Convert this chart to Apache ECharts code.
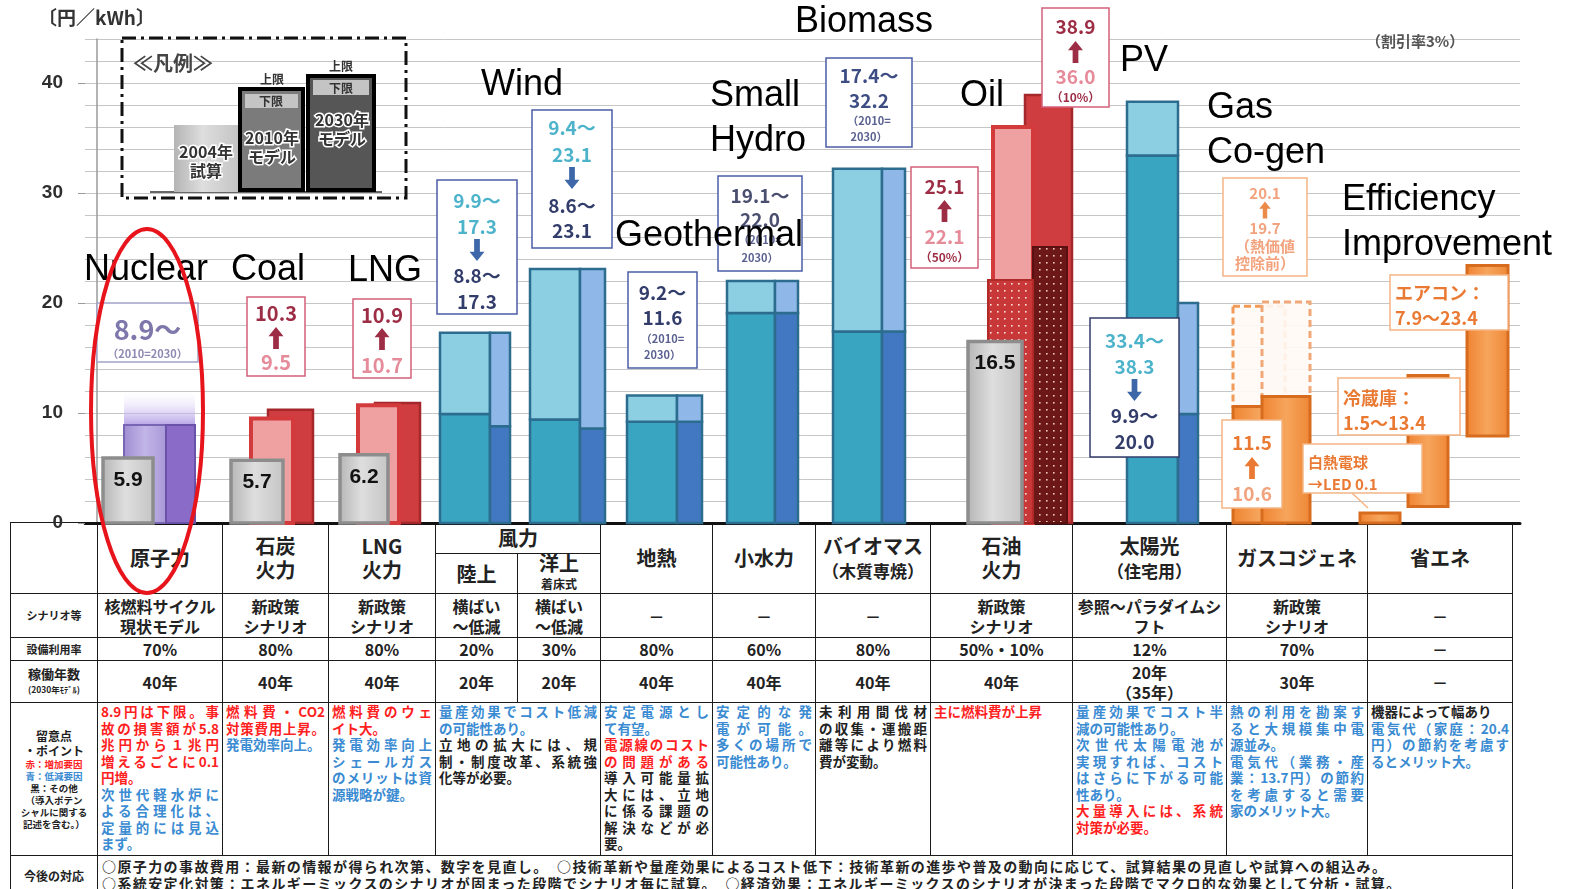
<!DOCTYPE html>
<html lang="ja">
<head>
<meta charset="utf-8">
<title>電源別発電コスト試算</title>
<script src="https://cdn.jsdelivr.net/npm/echarts@6/dist/echarts.min.js"></script>
<style>
  html, body { margin: 0; padding: 0; background: #fff; }
  #page { position: relative; width: 1576px; height: 889px; overflow: hidden; }
  #chart { position: absolute; left: 0; top: 0; width: 1576px; height: 889px; z-index: 2; pointer-events: none; }
  #tbl { position: absolute; left: 10px; top: 522px; width: 1502px; z-index: 1;
         border-collapse: collapse; table-layout: fixed;
         font-family: "Noto Sans CJK JP", sans-serif; font-weight: bold; color: #222; }
  #tbl td { border: 1.5px solid #1b1b1b; padding: 0; text-align: center; vertical-align: middle; overflow: hidden; }
  #tbl .hd { font-size: 20px; line-height: 24px; }
  #tbl .hd .sub { font-size: 17px; }
  #tbl .lab { font-size: 11px; line-height: 13px; }
  #tbl .val { font-size: 16px; line-height: 20px; }
  #tbl .note { vertical-align: top; text-align: justify; font-size: 13.5px; line-height: 16.5px; padding: 0 3px; }
  #tbl .note div.f { text-align-last: justify; }
  #tbl .todo { text-align: left; font-size: 14px; line-height: 17px; letter-spacing: 1.4px; padding: 2px 0 0 4px; vertical-align: top; white-space: nowrap; }
  .r { color: #ff1f1f; } .b { color: #3a8bd2; } .k { color: #222; }
</style>
</head>
<body>
<div id="page">
  <table id="tbl"></table>
  <div id="chart"></div>
</div>
<script>
// ---- data ----
const plants = ['原子力', '石炭火力', 'LNG火力', '風力（陸上）', '風力（洋上）', '地熱', '小水力', 'バイオマス', '石油火力', '太陽光', 'ガスコジェネ'];
const cost2004 = [5.9, 5.7, 6.2, null, null, null, null, null, 16.5, null, null];
const low2010 = [8.9, 9.5, 10.7, 9.9, 9.4, 9.2, 19.1, 17.4, 22.1, 33.4, 10.6];
const high2010 = [null, 9.5, 10.7, 17.3, 23.1, 11.6, 22.0, 32.2, 36.0, 38.3, 19.7];
const low2030 = [8.9, 10.3, 10.9, 8.8, 8.6, 9.2, 19.1, 17.4, 25.1, 9.9, 11.5];
const high2030 = [null, 10.3, 10.9, 17.3, 23.1, 11.6, 22.0, 32.2, 38.9, 20.0, 20.1];
const savings = ['白熱電球→LED', '冷蔵庫', 'エアコン'];
const savingLow = [0, 1.5, 7.9];
const savingHigh = [0.1, 13.4, 23.4];
const yTicks = [0, 10, 20, 30, 40];

const scenario = ['核燃料サイクル\n現状モデル', '新政策\nシナリオ', '新政策\nシナリオ', '横ばい\n～低減', '横ばい\n～低減', '－', '－', '－', '新政策\nシナリオ', '参照～パラダイムシ\nフト', '新政策\nシナリオ', '－'];
const utilization = ['70%', '80%', '80%', '20%', '30%', '80%', '60%', '80%', '50%・10%', '12%', '70%', '－'];
const lifetime = ['40年', '40年', '40年', '20年', '20年', '40年', '40年', '40年', '40年', '20年\n（35年）', '30年', '－'];
const notes = [
  [['r','8.9円は下限。事',1],['r','故の損害額が5.8',1],['r','兆円から１兆円',1],['r','増えるごとに0.1',1],['r','円増。'],['b','次世代軽水炉に',1],['b','よる合理化は、',1],['b','定量的には見込',1],['b','まず。']],
  [['r','燃料費・CO2',1],['r','対策費用上昇。',1],['b','発電効率向上。']],
  [['r','燃料費のウェ',1],['r','イト大。'],['b','発電効率向上',1],['b','シェールガス',1],['b','のメリットは資',1],['b','源戦略が鍵。']],
  [['b','量産効果でコスト低減',1],['b','の可能性あり。'],['k','立地の拡大には、規',1],['k','制・制度改革、系統強',1],['k','化等が必要。']],
  [['b','安定電源とし',1],['b','て有望。'],['r','電源線のコスト',1],['r','の問題がある',1],['k','導入可能量拡',1],['k','大には、立地',1],['k','に係る課題の',1],['k','解決などが必',1],['k','要。']],
  [['b','安定的な発',1],['b','電が可能。',1],['b','多くの場所で',1],['b','可能性あり。']],
  [['k','未利用間伐材',1],['k','の収集・運搬距',1],['k','離等により燃料',1],['k','費が変動。']],
  [['r','主に燃料費が上昇']],
  [['b','量産効果でコスト半',1],['b','減の可能性あり。'],['b','次世代太陽電池が',1],['b','実現すれば、コスト',1],['b','はさらに下がる可能',1],['b','性あり。'],['r','大量導入には、系統',1],['r','対策が必要。']],
  [['b','熱の利用を勘案す',1],['b','ると大規模集中電',1],['b','源並み。'],['b','電気代（業務・産',1],['b','業：13.7円）の節約',1],['b','を考慮すると需要',1],['b','家のメリット大。']],
  [['k','機器によって幅あり'],['b','電気代（家庭：20.4',1],['b','円）の節約を考慮す',1],['b','るとメリット大。']]
];
const followUp = [
  '○原子力の事故費用：最新の情報が得られ次第、数字を見直し。　○技術革新や量産効果によるコスト低下：技術革新の進歩や普及の動向に応じて、試算結果の見直しや試算への組込み。',
  '○系統安定化対策：エネルギーミックスのシナリオが固まった段階でシナリオ毎に試算。　○経済効果：エネルギーミックスのシナリオが決まった段階でマクロ的な効果として分析・試算。'
];

// ---- layout ----
const colWidths = [125, 106, 107, 82, 83, 112, 103, 115, 142, 154, 141, 145];
const colStart = [];
let acc = 0;
colWidths.forEach(w => { colStart.push(acc); acc += w; });
const kinds = ['nuclear', 'fossil', 'fossil', 'range', 'range', 'range', 'range', 'range', 'oil', 'range', 'cogen'];
// bar slots inside each column (offset from column start)
const slots = [
  { g: [6, 56], a: [27, 69], b: [69, 98] },
  { g: [9, 61], a: [29, 71], b: [46, 91] },
  { g: [12, 60], a: [30, 71], b: [47, 92] },
  { a: [5, 55], b: [55, 75] },
  { a: [13, 63], b: [63, 88] },
  { a: [27, 77], b: [77, 102] },
  { a: [15, 63], b: [63, 86] },
  { a: [18, 67], b: [67, 90] },
  { g: [38, 92], a: [63, 103], b: [95, 142], da: [58, 103], db: [103, 137] },
  { a: [55, 106], b: [106, 126] },
  { a: [7, 59], b: [36, 84] }
];
const effSlots = [[-7, 33], [41, 81], [100, 141]];

// ---- table ----
function buildTable () {
  const br = s => s.replace(/\n/g, '<br>');
  let h = '<colgroup><col style="width:87px">' + colWidths.map(w => `<col style="width:${w}px">`).join('') + '</colgroup>';
  const heads = ['原子力', '石炭<br>火力', 'LNG<br>火力', 'WIND', '地熱', '小水力', 'バイオマス<br><span class="sub">（木質専焼）</span>',
    '石油<br>火力', '太陽光<br><span class="sub">（住宅用）</span>', 'ガスコジェネ', '省エネ'];
  h += '<tr style="height:31px"><td rowspan="2"></td>';
  heads.forEach(t => {
    h += t === 'WIND' ? '<td colspan="2" class="hd">風力</td>' : `<td rowspan="2" class="hd">${t}</td>`;
  });
  h += '</tr><tr style="height:36px"><td class="hd">陸上</td><td class="hd" style="line-height:18px">洋上<br><span style="font-size:12px">着床式</span></td></tr>';
  h += '<tr style="height:44px"><td class="lab">シナリオ等</td>' + scenario.map(s => `<td class="val">${br(s)}</td>`).join('') + '</tr>';
  h += '<tr style="height:23px"><td class="lab">設備利用率</td>' + utilization.map(s => `<td class="val">${s}</td>`).join('') + '</tr>';
  h += '<tr style="height:42px"><td class="lab" style="font-size:13px;line-height:14px">稼働年数<br><span style="font-size:8.5px">(2030年ﾓﾃﾞﾙ)</span></td>' +
    lifetime.map(s => `<td class="val">${br(s)}</td>`).join('') + '</tr>';
  h += '<tr style="height:153px"><td class="lab"><div style="font-size:12px;line-height:15px">留意点<br>・ポイント</div>' +
    '<div style="font-size:9.5px;line-height:12px"><span class="r">赤：増加要因</span><br><span class="b">青：低減要因</span><br>黒：その他<br>（導入ポテン<br>シャルに関する<br>記述を含む。）</div></td>';
  notes.forEach((lines, i) => {
    const span = i === 3 ? ' colspan="2"' : '';
    h += `<td class="note"${span}>` + lines.map(l => `<div class="${l[0]}${l[2] ? ' f' : ''}">${l[1]}</div>`).join('') + '</td>';
  });
  h += '</tr>';
  h += '<tr style="height:40px"><td class="lab" style="font-size:12px">今後の対応</td><td colspan="12" class="todo">' + followUp.join('<br>') + '</td></tr>';
  document.getElementById('tbl').innerHTML = h;
}
buildTable();

// ---- chart ----
const C = {
  grayEdge: '#8d8d8d',
  gray: { type: 'linear', x: 0, y: 0, x2: 1, y2: 0, colorStops: [{ offset: 0, color: '#b4b4b4' }, { offset: 0.45, color: '#dedede' }, { offset: 1, color: '#c4c4c4' }] },
  tealEdge: '#2c6d8f', tealLow: '#3aa5c1', tealHigh: '#8ccfe3', blueLow: '#4178c1', blueHigh: '#8fb8e8',
  lav: { type: 'linear', x: 0, y: 0, x2: 1, y2: 0, colorStops: [{ offset: 0, color: '#9e8cd0' }, { offset: 0.5, color: '#c2b5e8' }, { offset: 1, color: '#a897d7' }] },
  pur: '#8a6cc8', red: '#d03d40', redEdge: '#a3272b', pink: '#efa0a0', pinkEdge: '#d23a3c',
  orange: { type: 'linear', x: 0, y: 0, x2: 1, y2: 0, colorStops: [{ offset: 0, color: '#ef8230' }, { offset: 0.5, color: '#f6a55c' }, { offset: 1, color: '#ee8634' }] },
  orangeEdge: '#d86c1e'
};

function dotFill (bg, dot) {
  const c = document.createElement('canvas');
  c.width = 7; c.height = 7;
  const g = c.getContext('2d');
  g.fillStyle = bg; g.fillRect(0, 0, 7, 7);
  g.fillStyle = dot; g.fillRect(3, 3, 1.6, 1.6);
  return { type: 'pattern', image: c, repeat: 'repeat' };
}
const dotRed = dotFill('#c83838', '#fde2d8');
const dotDark = dotFill('#6c1818', '#f0c8b8');

function seg (api, x0, slot, y0, y1, style) {
  const p = api.coord([x0 + slot[0], y1]);
  const q = api.coord([x0 + slot[1], y0]);
  return { type: 'rect', shape: { x: p[0], y: p[1], width: q[0] - p[0], height: q[1] - p[1] }, style: style };
}

function renderPlant (params, api) {
  const i = params.dataIndex;
  const x0 = colStart[i];
  const s = slots[i];
  const g04 = api.value(1), lo10 = api.value(2), hi10 = api.value(3), lo30 = api.value(4), hi30 = api.value(5);
  const ch = [];
  const k = kinds[i];
  if (k === 'range') {
    ch.push(seg(api, x0, s.a, 0, lo10, { fill: C.tealLow, stroke: C.tealEdge, lineWidth: 2.5 }));
    ch.push(seg(api, x0, s.a, lo10, hi10, { fill: C.tealHigh, stroke: C.tealEdge, lineWidth: 2.5 }));
    ch.push(seg(api, x0, s.b, 0, lo30, { fill: C.blueLow, stroke: C.tealEdge, lineWidth: 2.5 }));
    ch.push(seg(api, x0, s.b, lo30, hi30, { fill: C.blueHigh, stroke: C.tealEdge, lineWidth: 2.5 }));
  } else if (k === 'nuclear') {
    const fade = seg(api, x0, [s.a[0], s.b[1]], lo10, lo10 + 3, {});
    fade.style = { fill: { type: 'linear', x: 0, y: 0, x2: 0, y2: 1, colorStops: [{ offset: 0, color: 'rgba(235,228,252,0)' }, { offset: 1, color: 'rgba(175,155,228,0.9)' }] } };
    ch.push(fade);
    ch.push(seg(api, x0, s.a, 0, lo10, { fill: C.lav, stroke: '#7866b4', lineWidth: 2 }));
    ch.push(seg(api, x0, s.b, 0, lo30, { fill: C.pur, stroke: '#6a52a8', lineWidth: 2 }));
  } else if (k === 'fossil') {
    ch.push(seg(api, x0, s.b, 0, lo30, { fill: C.red, stroke: C.redEdge, lineWidth: 2.5 }));
    ch.push(seg(api, x0, s.a, 0, lo10, { fill: C.pink, stroke: C.pinkEdge, lineWidth: 4 }));
  } else if (k === 'oil') {
    ch.push(seg(api, x0, s.b, 0, hi30, { fill: C.red, stroke: C.redEdge, lineWidth: 2.5 }));
    ch.push(seg(api, x0, s.a, 0, hi10, { fill: C.pink, stroke: C.pinkEdge, lineWidth: 4 }));
    ch.push(seg(api, x0, s.db, 0, lo30, { fill: dotDark, stroke: '#5a1010', lineWidth: 2 }));
    ch.push(seg(api, x0, s.da, 0, lo10, { fill: dotRed, stroke: '#b02a2a', lineWidth: 2 }));
  } else if (k === 'cogen') {
    const dashed = { fill: 'rgba(255,250,245,0.9)', stroke: '#f29a58', lineWidth: 3, lineDash: [7, 4] };
    ch.push(seg(api, x0, s.a, lo10, hi10, dashed));
    ch.push(seg(api, x0, s.b, lo30, hi30, Object.assign({}, dashed, { stroke: '#f0a878' })));
    ch.push(seg(api, x0, s.a, 0, lo10, { fill: C.orange, stroke: C.orangeEdge, lineWidth: 3 }));
    ch.push(seg(api, x0, s.b, 0, lo30, { fill: C.orange, stroke: C.orangeEdge, lineWidth: 3 }));
  }
  if (!isNaN(g04)) {
    const bar = seg(api, x0, s.g, 0, g04, { fill: C.gray, stroke: C.grayEdge, lineWidth: 3.5 });
    ch.push(bar);
    ch.push({
      type: 'text',
      style: {
        text: g04.toFixed(1), x: bar.shape.x + bar.shape.width / 2, y: bar.shape.y + 22,
        font: 'bold 21px "Liberation Sans"', fill: '#111',
        align: 'center', verticalAlign: 'middle', textAlign: 'center', textVerticalAlign: 'middle'
      }
    });
  }
  return { type: 'group', children: ch };
}

function renderSaving (params, api) {
  const i = params.dataIndex;
  const s = effSlots[i];
  const x0 = colStart[11];
  const p = api.coord([x0 + s[0], api.value(2)]);
  const q = api.coord([x0 + s[1], api.value(1)]);
  let top = p[1];
  if (q[1] - top < 10) top = q[1] - 10;
  return {
    type: 'rect',
    shape: { x: p[0], y: top, width: q[0] - p[0], height: q[1] - top },
    style: { fill: C.orange, stroke: C.orangeEdge, lineWidth: 3 }
  };
}

const f = v => v.toFixed(1);
const tealT = '#4db3cb', navyT = '#333d6b', redT = '#9d2d45', pinkT = '#e68b9a', purT = '#7d77ab', orT = '#ea7a33', orL = '#f2a27c', subB = '#5a6190';
const boxes = [
  { box: [97, 303, 101, 59], stroke: '#a3a3c9', items: [[f(low2010[0]) + '～', 330, 27, purT], ['（2010=2030）', 354, 11, '#8d89b3']] },
  { box: [247, 297, 58, 79], stroke: '#d4607a', items: [[f(low2030[1]), 313, 20, redT], ['^', 338, 22, redT], [f(low2010[1]), 362, 20, pinkT]] },
  { box: [353, 299, 58, 79], stroke: '#d4607a', items: [[f(low2030[2]), 315, 20, redT], ['^', 339, 22, redT], [f(low2010[2]), 365, 20, pinkT]] },
  { box: [437, 180, 80, 134], stroke: '#4b5ea6', items: [[f(low2010[3]) + '～', 201, 19, tealT], [f(high2010[3]), 227, 19, tealT], ['v', 250, 22, '#3d67a8'], [f(low2030[3]) + '～', 276, 19, navyT], [f(high2030[3]), 302, 19, navyT]] },
  { box: [532, 110, 80, 138], stroke: '#4b5ea6', items: [[f(low2010[4]) + '～', 128, 19, tealT], [f(high2010[4]), 155, 19, tealT], ['v', 178, 22, '#3d67a8'], [f(low2030[4]) + '～', 206, 19, navyT], [f(high2030[4]), 231, 19, navyT]] },
  { box: [628, 272, 69, 96], stroke: '#4b5ea6', items: [[f(low2010[5]) + '～', 293, 19, navyT], [f(high2010[5]), 318, 19, navyT], ['（2010=', 339, 11, subB], ['2030）', 355, 11, subB]] },
  { box: [718, 176, 84, 95], stroke: '#4b5ea6', items: [[f(low2010[6]) + '～', 196, 19, '#4b4f6f'], [f(high2010[6]), 220, 19, '#4b4f6f'], ['（2010=', 240, 11, subB], ['2030）', 258, 11, subB]] },
  { box: [826, 58, 86, 89], stroke: '#4b5ea6', items: [[f(low2010[7]) + '～', 76, 19, '#3d4d84'], [f(high2010[7]), 101, 19, '#3d4d84'], ['（2010=', 121, 11, subB], ['2030）', 137, 11, subB]] },
  { box: [911, 167, 67, 101], stroke: '#d4607a', items: [[f(low2030[8]), 187, 19, redT], ['^', 211, 22, redT], [f(low2010[8]), 237, 19, pinkT], ['（50%）', 257, 12, redT]] },
  { box: [1042, 8, 67, 99], stroke: '#d4607a', items: [[f(high2030[8]), 27, 19, redT], ['^', 52, 22, redT], [f(high2010[8]), 77, 19, pinkT], ['（10%）', 97, 12, redT]] },
  { box: [1090, 318, 89, 139], stroke: '#333d6b', items: [[f(low2010[9]) + '～', 341, 19, tealT], [f(high2010[9]), 367, 19, tealT], ['v', 390, 22, '#3d67a8'], [f(low2030[9]) + '～', 416, 19, navyT], [f(high2030[9]), 442, 19, navyT]] },
  { box: [1223, 178, 84, 98], stroke: '#f5b585', items: [[f(high2030[10]), 193, 15, orL], ['^', 210, 17, '#ec8a4a'], [f(high2010[10]), 228, 15, orL], ['（熱価値', 246, 15, orL], ['控除前）', 263, 15, orL]] },
  { box: [1222, 420, 60, 88], stroke: '#f5b585', items: [[f(low2030[10]), 443, 19, orT], ['^', 468, 22, orT], [f(low2010[10]), 494, 19, orL]] },
  { box: [1303, 444, 119, 49], stroke: '#f5b585', left: true, items: [['白熱電球', 462, 15, orT], ['→LED ' + savingHigh[0], 484, 15, orT]] },
  { box: [1338, 378, 122, 57], stroke: '#f5b585', left: true, items: [['冷蔵庫：', 398, 18, orT], [savingLow[1] + '～' + savingHigh[1], 423, 18, orT]] },
  { box: [1390, 275, 118, 55], stroke: '#f5b585', left: true, items: [['エアコン：', 293, 18, orT], [savingLow[2] + '～' + savingHigh[2], 318, 18, orT]] }
];

function arrow (cx, cy, h, color, up) {
  const hw = h * 0.34, sw = h * 0.13, hh = h * 0.42;
  const d = up ? 1 : -1;
  const tip = cy - d * h / 2, base = cy + d * h / 2, neck = tip + d * hh;
  return {
    type: 'polygon',
    shape: { points: [[cx - sw, base], [cx + sw, base], [cx + sw, neck], [cx + hw, neck], [cx, tip], [cx - hw, neck], [cx - sw, neck]] },
    style: { fill: color }
  };
}

function txt (text, x, y, font, fill, align, extra) {
  return {
    type: 'text',
    style: Object.assign({
      text: text, x: x, y: y, font: font, fill: fill,
      align: align || 'left', verticalAlign: 'middle', textAlign: align || 'left', textVerticalAlign: 'middle'
    }, extra || {})
  };
}

// graphic z has to sit on every element, groups do not pass it down
function lift (el, z) {
  el.z = z;
  if (el.children) el.children.forEach(c => lift(c, z));
  return el;
}

function annBox (b) {
  const [x, y, w, h] = b.box;
  const kids = [{ type: 'rect', shape: { x: x, y: y, width: w, height: h }, style: { fill: '#fff', stroke: b.stroke, lineWidth: 1.5 } }];
  b.items.forEach(it => {
    const [t, cy, size, color] = it;
    if (t === '^' || t === 'v') kids.push(arrow(x + w / 2, cy, size, color, t === '^'));
    else if (b.left) kids.push(txt(t, x + 5, cy, `bold ${size}px "Noto Sans CJK JP"`, color, 'left'));
    else kids.push(txt(t, x + w / 2, cy, `bold ${size}px "Noto Sans CJK JP"`, color, 'center'));
  });
  return lift({ type: 'group', children: kids }, 50);
}

const outline = { stroke: '#fff', lineWidth: 3, lineHeight: 19 };
const legendBox = lift({
  type: 'group',
  children: [
    { type: 'rect', shape: { x: 122, y: 38, width: 284, height: 160 }, style: { fill: null, stroke: '#111', lineWidth: 3, lineDash: [14, 5, 3, 5] } },
    txt('≪凡例≫', 133, 63, 'bold 20px "Noto Sans CJK JP"', '#444'),
    { type: 'line', shape: { x1: 150, y1: 192, x2: 382, y2: 192 }, style: { stroke: '#333', lineWidth: 1.5 } },
    { type: 'rect', shape: { x: 174, y: 125, width: 64, height: 67 }, style: { fill: C.gray } },
    { type: 'rect', shape: { x: 240, y: 89, width: 63, height: 101 }, style: { fill: '#7b7b7b', stroke: '#000', lineWidth: 4 } },
    { type: 'rect', shape: { x: 245, y: 94, width: 53, height: 14 }, style: { fill: '#c4c4c4' } },
    { type: 'rect', shape: { x: 308, y: 76, width: 66, height: 114 }, style: { fill: '#565656', stroke: '#000', lineWidth: 4 } },
    { type: 'rect', shape: { x: 313, y: 80, width: 56, height: 15 }, style: { fill: '#c4c4c4' } },
    txt('上限', 272, 79, 'bold 12px "Noto Sans CJK JP"', '#333', 'center'),
    txt('下限', 271, 101, 'bold 12px "Noto Sans CJK JP"', '#333', 'center'),
    txt('上限', 341, 66, 'bold 12px "Noto Sans CJK JP"', '#333', 'center'),
    txt('下限', 341, 88, 'bold 12px "Noto Sans CJK JP"', '#333', 'center'),
    txt('2004年\n試算', 206, 161, 'bold 16px "Noto Sans CJK JP"', '#333', 'center', outline),
    txt('2010年\nモデル', 272, 147, 'bold 16px "Noto Sans CJK JP"', '#333', 'center', outline),
    txt('2030年\nモデル', 342, 129, 'bold 16px "Noto Sans CJK JP"', '#333', 'center', outline)
  ]
}, 40);

const bigFont = '36px "Liberation Sans"';
const names = [
  ['Nuclear', 84, 270], ['Coal', 231, 270], ['LNG', 348, 271], ['Wind', 481, 85],
  ['Small', 710, 96], ['Hydro', 710, 141], ['Geothermal', 615, 236], ['Biomass', 795, 22],
  ['Oil', 960, 96], ['PV', 1120, 61], ['Gas', 1207, 108], ['Co-gen', 1207, 153],
  ['Efficiency', 1342, 200], ['Improvement', 1342, 245]
];

const graphic = [legendBox]
  .concat(boxes.map(annBox))
  .concat([lift({ type: 'line', shape: { x1: 1352, y1: 493, x2: 1368, y2: 508 }, style: { stroke: '#f5b585', lineWidth: 1.5 } }, 49)])
  .concat(names.map(n => lift(txt(n[0], n[1], n[2], bigFont, '#000'), 70)))
  .concat([
    lift(txt('〔円／kWh〕', 38, 18, 'bold 19px "Noto Sans CJK JP"', '#333'), 70),
    lift(txt('（割引率3%）', 1366, 41, 'bold 15px "Noto Sans CJK JP"', '#555'), 70),
    lift({ type: 'ellipse', shape: { cx: 147, cy: 411, rx: 56, ry: 182 }, style: { fill: null, stroke: '#e8141c', lineWidth: 4 } }, 80)
  ]);

const chart = echarts.init(document.getElementById('chart'));
chart.setOption({
  animation: false,
  grid: { left: 85, right: 56, top: 39, height: 484 },
  xAxis: {
    type: 'value', min: -12, max: 1423,
    axisLine: { show: true, lineStyle: { color: '#111', width: 3 } },
    axisTick: { show: false }, axisLabel: { show: false }, splitLine: { show: false }
  },
  yAxis: [
    {
      type: 'value', min: 0, max: 44, interval: 2, position: 'left',
      axisLine: { show: true, lineStyle: { color: '#9a9a9a', width: 1.5 } },
      axisTick: { show: false }, axisLabel: { show: false },
      splitLine: { show: true, lineStyle: { color: '#c6c6c6', width: 1 } }
    },
    {
      type: 'value', min: 0, max: 44, position: 'left',
      axisLine: { show: false },
      axisTick: { show: true, length: 7, customValues: yTicks, lineStyle: { color: '#9a9a9a' } },
      axisLabel: { customValues: yTicks, margin: 22, fontSize: 19, fontWeight: 'bold', color: '#2e2e2e', fontFamily: 'Liberation Sans' },
      splitLine: { show: false }
    }
  ],
  series: [
    {
      type: 'custom', name: '発電コスト', z: 2,
      renderItem: renderPlant,
      data: plants.map((p, i) => [colStart[i] + colWidths[i] / 2, cost2004[i], low2010[i], high2010[i], low2030[i], high2030[i]])
    },
    {
      type: 'custom', name: '省エネ', z: 2,
      renderItem: renderSaving,
      data: savings.map((s, i) => [colStart[11] + (effSlots[i][0] + effSlots[i][1]) / 2, savingLow[i], savingHigh[i]])
    }
  ],
  graphic: graphic
});
</script>
</body>
</html>
